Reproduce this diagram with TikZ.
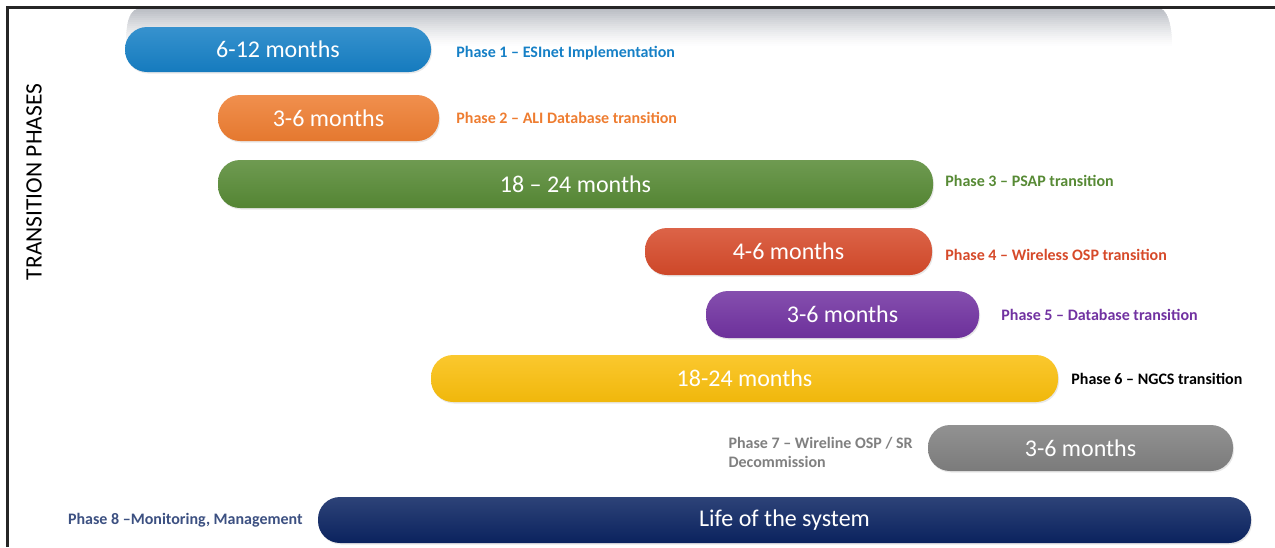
\documentclass[tikz,border=0pt]{standalone}
\usepackage{fontspec}
\setmainfont{Carlito}
\usetikzlibrary{positioning, shadows}

\definecolor{esiblue}{HTML}{1680C6}
\definecolor{aliorange}{HTML}{EE7D31}
\definecolor{psapgreen}{HTML}{578A35}
\definecolor{ospred}{HTML}{D64A2A}
\definecolor{dbpurple}{HTML}{7132A1}
\definecolor{ngcsyellow}{HTML}{FABF0C}
\definecolor{srgray}{HTML}{808080}
\definecolor{lifenavy}{HTML}{0B2462}
\definecolor{tabgray}{HTML}{B9BCC3}

\begin{document}
\begin{tikzpicture}[x=1pt, y=-1pt,
        bar/.style={rounded corners=22pt, minimum height=46pt, inner sep=0pt, text=white,
            font=\fontsize{24}{28}\selectfont, top color=#1!86!white, bottom color=#1!96!black,
            drop shadow={opacity=0.18, shadow xshift=1pt, shadow yshift=-1.5pt}},
        phase/.style={inner sep=0pt, align=left, text=#1,
            font=\bfseries\fontsize{16}{19}\selectfont},
        frame/.style={line width=2.2pt, black!85}
    ]
        \useasboundingbox (0,0) rectangle (1275,547);

        % grey tab at the top, fading to white
        \begin{scope}
            \clip (126,46) .. controls (126,22) and (129,8) .. (142,8) -- (1158,8)
                .. controls (1167,8) and (1172,24) .. (1172,46) -- cycle;
            \foreach \i in {0,...,19} {
                \pgfmathsetmacro\fade{100*(1-\i/19)^1.3}
                \fill[tabgray!\fade!white] (100,8+2*\i) rectangle (1200,10.6+2*\i);
            }
        \end{scope}
        \draw[frame] (7.5,547) -- (7.5,7.5) -- (1275,7.5);

        \node[rotate=90, font=\fontsize{23.5}{26}\selectfont] (title) at (34,182) {TRANSITION PHASES};

        % Bars
        \node[bar=esiblue, minimum width=306pt, minimum height=45pt] (bar1) at (278,49.5) {6-12 months};
        \node[bar=aliorange, minimum width=221pt] (bar2) at (328.5,118) {3-6 months};
        \node[bar=psapgreen, minimum width=715pt, minimum height=48pt] (bar3) at (575.5,184) {18 -- 24 months};
        \node[bar=ospred, minimum width=287pt, minimum height=47pt] (bar4) at (788.5,251.5) {4-6 months};
        \node[bar=dbpurple, minimum width=273pt, minimum height=47pt] (bar5) at (842.5,314.5) {3-6 months};
        \node[bar=ngcsyellow, minimum width=627pt, minimum height=47pt] (bar6) at (744.5,378.5) {18-24 months};
        \node[bar=srgray, minimum width=305pt] (bar7) at (1080.5,448) {3-6 months};
        \node[bar=lifenavy, minimum width=933pt] (bar8) at (784.5,520) {Life of the system};

        % Phase names
        \node[phase=esiblue, right=25pt of bar1, yshift=-3.5pt] (lab1) {Phase 1 – ESInet Implementation};
        \node[phase=aliorange, right=17pt of bar2] (lab2) {Phase 2 – ALI Database transition};
        \node[phase=psapgreen, right=12pt of bar3, yshift=3pt] (lab3) {Phase 3 – PSAP transition};
        \node[phase=ospred, right=13pt of bar4, yshift=-3.5pt] (lab4) {Phase 4 – Wireless OSP transition};
        \node[phase=dbpurple, right=22pt of bar5] (lab5) {Phase 5 – Database transition};
        \node[phase=black, right=13pt of bar6] (lab6) {Phase 6 – NGCS transition};
        \node[phase=srgray, left=15pt of bar7, yshift=-4pt] (lab7) {Phase 7 – Wireline OSP / SR\\Decommission};
        \node[phase=lifenavy!80!white, left=15pt of bar8] (lab8) {Phase 8 –Monitoring, Management};
    \end{tikzpicture}
\end{document}
